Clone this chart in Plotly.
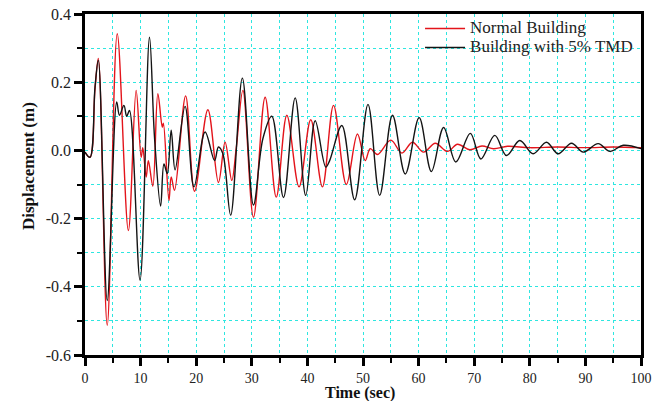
import plotly.graph_objects as go

# Normal Building (red) - extrema
normal_t = [0, 0.9, 1.8, 2.4, 4.0, 5.8, 7.8, 9.2, 10.1, 10.4, 11.0, 11.4, 12.2, 13.1, 13.9, 14.1,
            15.1, 15.5, 16.1, 18.1, 19.7, 22.1, 24.0, 25.2, 26.4, 27.2, 28.4, 30.3, 32.4, 34.4,
            36.3, 38.5, 40.6, 42.7, 44.7, 47.0, 49.0, 50.4, 51.3, 52.6, 55.0, 57.0, 58.9, 60.9,
            63.0, 65.2, 67.0, 69.2, 71.4, 73.5, 76.0, 80.0, 85.0, 90.0, 95.0, 100.0]
normal_y = [-0.005, -0.02, 0.18, 0.27, -0.513, 0.342, -0.235, 0.176, -0.02, 0.008, -0.078, -0.03, -0.105, 0.166, 0.068, 0.08,
            -0.147, -0.078, -0.117, 0.16, -0.12, 0.119, -0.094, 0.024, -0.088, 0.006, 0.176, -0.196, 0.156, -0.137,
            0.103, -0.107, 0.09, -0.107, 0.132, -0.1, 0.048, -0.03, 0.005, -0.012, 0.03, -0.008, 0.024, -0.005,
            0.021, -0.003, 0.018, 0.002, 0.013, 0.005, 0.012, 0.008, 0.01, 0.008, 0.01, 0.008]

# Building with 5% TMD (black)
tmd_t = [0, 0.9, 1.8, 2.4, 4.0, 5.7, 6.2, 7.0, 7.5, 8.0, 9.9, 11.6, 12.5, 13.6, 14.2, 14.8, 15.5,
         16.2, 18.0, 19.6, 21.6, 23.3, 24.0, 24.8, 26.2, 28.3, 30.3, 32.0, 33.6, 35.7, 37.8, 39.7,
         41.4, 43.3, 44.0, 46.2, 48.5, 50.9, 53.0, 55.3, 57.6, 60.1, 62.3, 64.5, 66.7, 69.3, 71.2,
         73.7, 75.8, 78.2, 80.6, 83.0, 85.1, 87.5, 89.6, 92.3, 94.4, 96.8, 100.0]
tmd_y = [-0.005, -0.02, 0.186, 0.264, -0.44, 0.142, 0.103, 0.132, 0.10, 0.117, -0.38, 0.332, 0.039, -0.163, -0.04, -0.068, 0.059,
         -0.057, 0.129, -0.107, 0.054, -0.03, 0.01, -0.01, -0.19, 0.212, -0.16, 0.035, 0.1, -0.138, 0.154, -0.132,
         0.087, -0.049, -0.03, 0.073, -0.145, 0.135, -0.132, 0.103, -0.069, 0.096, -0.062, 0.067, -0.034, 0.05, -0.025,
         0.044, -0.015, 0.029, -0.01, 0.024, -0.01, 0.021, -0.005, 0.02, -0.003, 0.015, 0.005]

y_tickvals = [-0.6, -0.4, -0.2, 0.0, 0.2, 0.4]
y_ticktext = ["-0.6", "-0.4", "-0.2", "0.0", "0.2", "0.4"]
x_tickvals = [0, 10, 20, 30, 40, 50, 60, 70, 80, 90, 100]

GRID = "#2ee6e0"
SERIF = "Liberation Serif"


def legend_label(s):
    return '<span style="font-size:17px">' + s + '</span>'


fig = go.Figure()
fig.add_trace(go.Scatter(x=normal_t, y=normal_y, mode="lines", name=legend_label("Normal Building"),
                         line=dict(color="#e3141b", width=1.4, shape="spline", smoothing=1.0)))
fig.add_trace(go.Scatter(x=tmd_t, y=tmd_y, mode="lines", name=legend_label("Building with 5% TMD"),
                         line=dict(color="#141414", width=1.4, shape="spline", smoothing=1.0)))

axis_common = dict(
    showline=True, linewidth=2.5, linecolor="black", mirror=True,
    ticks="outside", ticklen=8, tickwidth=2.5, tickcolor="black",
    showgrid=True, gridcolor=GRID, griddash="dot", gridwidth=1,
    zeroline=False, automargin=False, ticklabeloverflow="allow",
)

fig.update_xaxes(range=[0, 100], tickvals=x_tickvals,
                 tickfont=dict(family=SERIF, size=14, color="#222"),
                 minor=dict(dtick=5, ticks="outside", ticklen=5, tickwidth=2, tickcolor="black",
                            showgrid=True, gridcolor=GRID, griddash="dot", gridwidth=1),
                 **axis_common)
fig.update_yaxes(range=[-0.6, 0.4], tickvals=y_tickvals, ticktext=y_ticktext,
                 tickfont=dict(family=SERIF, size=16, color="#222"),
                 minor=dict(dtick=0.1, ticks="outside", ticklen=5, tickwidth=2, tickcolor="black",
                            showgrid=True, gridcolor=GRID, griddash="dot", gridwidth=1),
                 **axis_common)

# axis titles as annotations (positions in paper coordinates)
fig.add_annotation(text="<b>Time (sec)</b>", xref="paper", yref="paper", x=0.495, y=-0.111,
                   xanchor="center", yanchor="middle", showarrow=False,
                   font=dict(family=SERIF, size=16, color="#111"))
fig.add_annotation(text="<b>Displacement (m)</b>", xref="paper", yref="paper", x=-0.1025, y=0.554,
                   xanchor="center", yanchor="middle", showarrow=False, textangle=-90,
                   font=dict(family=SERIF, size=17, color="#111"))

fig.update_layout(
    width=666, height=401,
    margin=dict(l=77, r=33, t=6, b=54),
    paper_bgcolor="white", plot_bgcolor="white",
    showlegend=True,
    legend=dict(x=0.6026, xanchor="left", y=1.0, yanchor="top", bgcolor="rgba(0,0,0,0)",
                font=dict(family=SERIF, size=10.5, color="#222"), itemwidth=40, tracegroupgap=0),
    font=dict(family=SERIF),
)

fig.write_html("out.html")
